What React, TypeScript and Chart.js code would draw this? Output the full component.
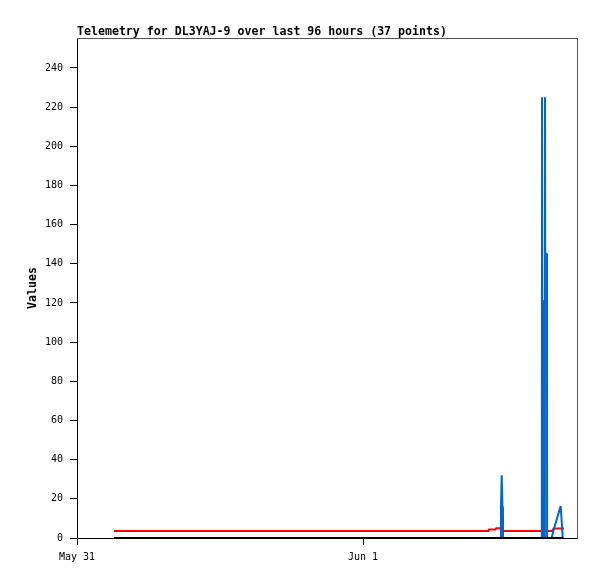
import React, { useEffect, useRef } from "react";
import { Chart, registerables } from "chart.js";

Chart.register(...registerables);

// Time axis: hours since May 31 00:00
const xTickHours = [0, 24];
const xTickLabels = ["May 31", "Jun 1"];
const yTickValues = [0, 20, 40, 60, 80, 100, 120, 140, 160, 180, 200, 220, 240];
const xMaxHours = 41.958;
const yMaxValue = 255.3;

const blackTimes = [3.105, 40.809];
const blackValues = [0, 0];

const redTimes = [3.105, 34.532, 34.573, 35.119, 35.161, 35.538, 35.58, 39.524, 39.902, 39.986, 40.867];
const redValues = [3.6, 3.6, 4.3, 4.3, 5.0, 5.0, 3.6, 3.6, 3.6, 4.8, 4.8];

const blueTimes = [
  3.105, 35.575, 35.58, 35.64, 35.7, 35.745, 35.75, 39.004, 39.021, 39.046, 39.147, 39.155,
  39.264, 39.273, 39.29, 39.441, 39.449, 39.835, 39.944, 40.112, 40.28, 40.448, 40.59, 40.674, 40.758,
];
const blueValues = [
  0, 0, 16, 32, 16, 16, 0, 0, 225, 121, 121, 0, 0, 225, 145, 145, 0, 0, 3, 6.5, 10, 13.5, 16.3, 8.3, 0,
];

const titleText = "Telemetry for DL3YAJ-9 over last 96 hours (37 points)";
const yTitleText = "Values";

const FONT = "'DejaVu Sans Mono', 'Liberation Mono', monospace";

function pts(xs: number[], ys: number[]) {
  return xs.map((x, i) => ({ x, y: ys[i] }));
}

const framePlugin = {
  id: "framePlugin",
  afterDraw(chart: any) {
    const { ctx, chartArea } = chart;
    const { left, top, right, bottom } = chartArea;
    ctx.save();
    ctx.strokeStyle = "#555555";
    ctx.lineWidth = 1;
    ctx.beginPath();
    ctx.moveTo(left, Math.floor(top) + 0.5);
    ctx.lineTo(right + 1, Math.floor(top) + 0.5);
    ctx.moveTo(Math.floor(right) + 0.5, top);
    ctx.lineTo(Math.floor(right) + 0.5, bottom);
    ctx.stroke();

    ctx.fillStyle = "#000";
    ctx.font = `bold 11.6px ${FONT}`;
    ctx.textAlign = "left";
    ctx.textBaseline = "alphabetic";
    ctx.fillText(titleText, left, 35);

    ctx.translate(36, (top + bottom) / 2);
    ctx.rotate(-Math.PI / 2);
    ctx.textAlign = "center";
    ctx.fillText(yTitleText, 0, 0);
    ctx.restore();
  },
};

export default function App() {
  const ref = useRef<HTMLCanvasElement | null>(null);
  useEffect(() => {
    document.body.style.margin = "0";
    const canvas = ref.current!;
    const chart = new Chart(canvas, {
      type: "line",
      data: {
        datasets: [
          {
            label: "ch0",
            data: pts(blackTimes, blackValues),
            borderColor: "#000000",
            borderWidth: 2,
            pointRadius: 0,
            fill: false,
            clip: false as any,
          },
          {
            label: "ch1",
            data: pts(blueTimes, blueValues),
            borderColor: "#0066cc",
            borderWidth: 2,
            borderJoinStyle: "bevel",
            tension: 0.000001,
            pointRadius: 0,
            fill: false,
            clip: false as any,
          },
          {
            label: "ch2",
            data: pts(redTimes, redValues),
            borderColor: "#ff0000",
            borderWidth: 2,
            tension: 0.000001,
            pointRadius: 0,
            fill: false,
            clip: false as any,
          },
        ],
      },
      options: {
        animation: false,
        responsive: false,
        devicePixelRatio: 1,
        layout: { padding: { top: 38, right: 20, left: 0, bottom: 0 } },
        plugins: {
          legend: { display: false },
          tooltip: { enabled: false },
          title: { display: false },
        },
        scales: {
          x: {
            type: "linear",
            min: 0,
            max: xMaxHours,
            afterBuildTicks(scale: any) {
              scale.ticks = xTickHours.map((v) => ({ value: v }));
            },
            afterFit(scale: any) {
              scale.height = 41;
            },
            ticks: {
              autoSkip: false,
              maxRotation: 0,
              padding: 6,
              color: "#000",
              font: { family: FONT, size: 10 },
              callback(value: any) {
                const i = xTickHours.indexOf(Number(value));
                return i >= 0 ? xTickLabels[i] : "";
              },
            },
            grid: {
              display: true,
              drawOnChartArea: false,
              drawTicks: true,
              tickLength: 7,
              tickColor: "#000",
              color: "#000",
            },
            border: { display: true, color: "#000", width: 1 },
          },
          y: {
            type: "linear",
            min: 0,
            max: yMaxValue,
            afterBuildTicks(scale: any) {
              scale.ticks = yTickValues.map((v) => ({ value: v }));
            },
            afterFit(scale: any) {
              scale.width = 77;
            },
            ticks: {
              autoSkip: false,
              padding: 7,
              color: "#000",
              font: { family: FONT, size: 10 },
              callback(value: any) {
                return String(value);
              },
            },
            grid: {
              display: true,
              drawOnChartArea: false,
              drawTicks: true,
              tickLength: 7,
              tickColor: "#000",
              color: "#000",
            },
            border: { display: true, color: "#000", width: 1 },
          },
        },
      },
      plugins: [framePlugin],
    });
    return () => chart.destroy();
  }, []);
  return (
    <div style={{ width: 597, height: 579, background: "#fff" }}>
      <canvas ref={ref} width={597} height={579} style={{ display: "block" }} />
    </div>
  );
}
